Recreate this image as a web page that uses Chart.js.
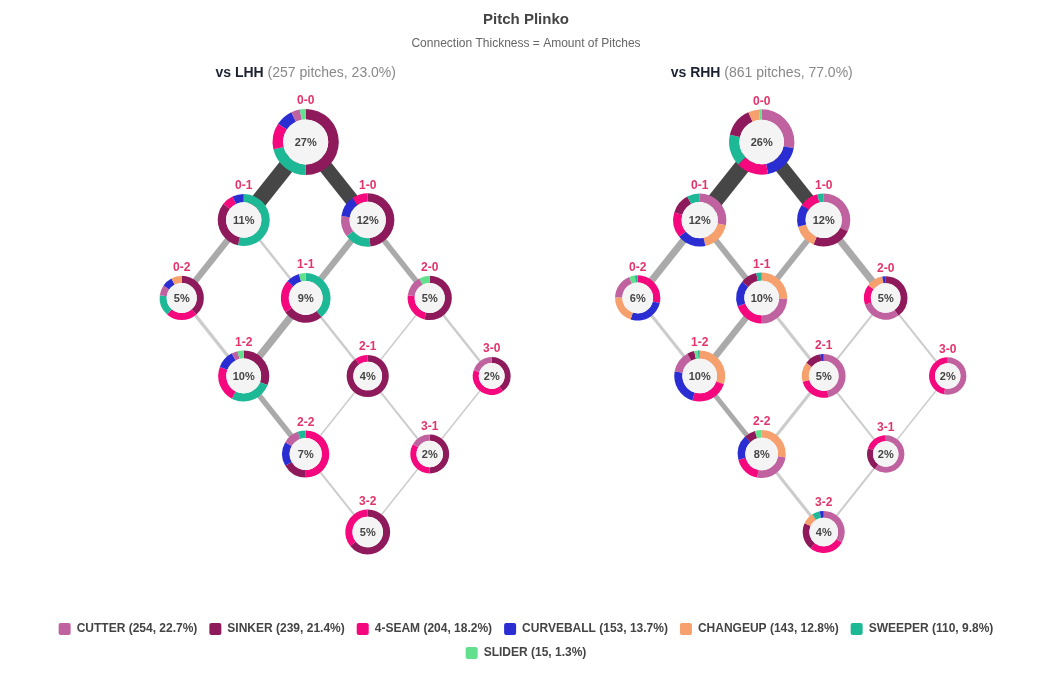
<!DOCTYPE html>
<html>
<head>
<meta charset="utf-8">
<title>Pitch Plinko</title>
<script src="https://cdn.jsdelivr.net/npm/chart.js@4.4.1/dist/chart.umd.min.js"></script>
<style>
  html, body { margin: 0; padding: 0; background: #fff; }
  #wrap { width: 1052px; height: 676px; }
</style>
</head>
<body>
<div id="wrap"><canvas id="plinko"></canvas></div>
<script>
// pitch types (legend order)
const pitchNames = ['CUTTER', 'SINKER', '4-SEAM', 'CURVEBALL', 'CHANGEUP', 'SWEEPER', 'SLIDER'];
const pitchColors = ['#c0629f', '#8f1a5b', '#f5077d', '#2a2dd1', '#f6a06e', '#1db997', '#62e08e'];
const pitchTotals = [254, 239, 204, 153, 143, 110, 15];

// counts, balls-strikes
const counts = ['0-0', '0-1', '1-0', '0-2', '1-1', '2-0', '1-2', '2-1', '3-0', '2-2', '3-1', '3-2'];

// pitches per count vs LHH
const lhhCutter    = [3, 0, 4, 1, 0, 2, 1, 0, 1, 2, 1, 0];
const lhhSinker    = [35, 9, 15, 5, 6, 7, 8, 9, 2, 3, 3, 9];
const lhhFourSeam  = [9, 2, 3, 3, 5, 3, 6, 1, 2, 9, 2, 5];
const lhhCurveball = [6, 2, 4, 1, 2, 0, 3, 0, 0, 3, 0, 0];
const lhhChangeup  = [0, 0, 0, 1, 0, 0, 0, 0, 0, 0, 0, 0];
const lhhSweeper   = [15, 15, 5, 2, 9, 0, 7, 0, 0, 1, 0, 0];
const lhhSlider    = [2, 0, 0, 0, 1, 1, 1, 0, 0, 0, 0, 0];

// pitches per count vs RHH
const rhhCutter    = [63, 29, 33, 9, 21, 12, 12, 19, 8, 17, 9, 11];
const rhhSinker    = [33, 13, 25, 0, 9, 16, 4, 5, 0, 5, 3, 7];
const rhhFourSeam  = [36, 16, 12, 14, 17, 6, 21, 10, 7, 12, 3, 9];
const rhhCurveball = [42, 18, 14, 13, 14, 1, 20, 1, 0, 11, 0, 1];
const rhhChangeup  = [12, 19, 15, 10, 22, 5, 26, 6, 0, 18, 0, 3];
const rhhSweeper   = [35, 8, 4, 1, 3, 0, 1, 0, 0, 0, 0, 2];
const rhhSlider    = [3, 0, 0, 2, 0, 0, 2, 0, 0, 3, 0, 0];

// connections between counts
const edgeFrom = ['0-0', '0-0', '0-1', '0-1', '1-0', '1-0', '0-2', '1-1', '1-1', '2-0', '2-0', '1-2', '2-1', '2-1', '3-0', '2-2', '3-1'];
const edgeTo   = ['0-1', '1-0', '0-2', '1-1', '1-1', '2-0', '1-2', '1-2', '2-1', '2-1', '3-0', '2-2', '2-2', '3-1', '3-1', '3-2', '3-2'];
const lhhFlow  = [31, 27, 11, 3, 11, 9, 5, 13, 3, 1, 3, 9, 1, 2, 1, 2, 1];
const rhhFlow  = [103, 89, 41, 34, 34, 41, 14, 38, 14, 7, 7, 27, 14, 7, 3, 14, 7];

const sides = [
    { label: 'vs LHH', offset: 0, types: [lhhCutter, lhhSinker, lhhFourSeam, lhhCurveball, lhhChangeup, lhhSweeper, lhhSlider], flow: lhhFlow },
    { label: 'vs RHH', offset: 7.355, types: [rhhCutter, rhhSinker, rhhFourSeam, rhhCurveball, rhhChangeup, rhhSweeper, rhhSlider], flow: rhhFlow }
];
const grandTotal = pitchTotals.reduce((a, b) => a + b, 0);
const fontFamily = '"Liberation Sans", Arial, Helvetica, sans-serif';

// position of a count on the board
function countPos(count, side) {
    const [b, s] = count.split('-').map(Number);
    return { x: b - s + side.offset, y: b + s };
}

// build connection datasets
const datasets = [];
sides.forEach(side => {
    const maxFlow = Math.max(...side.flow);
    side.flow.forEach((f, i) => {
        const ratio = f / maxFlow;
        let color = '#cccccc';
        if (ratio >= 0.6) color = '#464646';
        else if (ratio >= 0.25) color = '#aaaaaa';
        datasets.push({
            data: [countPos(edgeFrom[i], side), countPos(edgeTo[i], side)],
            borderColor: color,
            borderWidth: 1 + 15 * ratio,
            pointRadius: 0,
            order: -ratio
        });
    });
});

// donuts + headers
const plinkoPlugin = {
    id: 'plinko',
    afterDatasetsDraw(chart) {
        const { ctx, scales: { x, y } } = chart;
        ctx.save();
        sides.forEach(side => {
            const nodeTotals = counts.map((c, n) => side.types.reduce((a, t) => a + t[n], 0));
            const sideTotal = nodeTotals.reduce((a, b) => a + b, 0);

            counts.forEach((c, n) => {
                const p = countPos(c, side);
                const cx = x.getPixelForValue(p.x);
                const cy = y.getPixelForValue(p.y);
                const pct = nodeTotals[n] / sideTotal * 100;
                const rOut = 13.8 + 3.7 * Math.sqrt(pct);
                const rIn = rOut * 0.68;

                const order = pitchNames.map((_, i) => i)
                    .filter(i => side.types[i][n] > 0)
                    .sort((a, b) => side.types[b][n] - side.types[a][n] || a - b);
                let ang = -Math.PI / 2;
                order.forEach(i => {
                    const sweep = side.types[i][n] / nodeTotals[n] * Math.PI * 2;
                    ctx.beginPath();
                    ctx.arc(cx, cy, rOut, ang, ang + sweep);
                    ctx.arc(cx, cy, rIn, ang + sweep, ang, true);
                    ctx.closePath();
                    ctx.fillStyle = pitchColors[i];
                    ctx.fill();
                    ang += sweep;
                });
                ctx.beginPath();
                ctx.arc(cx, cy, rIn, 0, Math.PI * 2);
                ctx.fillStyle = '#f4f4f4';
                ctx.fill();

                ctx.textAlign = 'center';
                ctx.textBaseline = 'middle';
                ctx.fillStyle = '#444';
                ctx.font = 'bold 11px ' + fontFamily;
                ctx.fillText(Math.round(pct) + '%', cx, cy + 0.5);
                ctx.fillStyle = '#e2336b';
                ctx.font = 'bold 12px ' + fontFamily;
                ctx.fillText(c, cx, cy - rOut - 8);
            });

            // panel header
            const hx = x.getPixelForValue(side.offset);
            const hy = y.getPixelForValue(-0.88);
            const part1 = side.label;
            const part2 = ' (' + sideTotal + ' pitches, ' + (sideTotal / grandTotal * 100).toFixed(1) + '%)';
            ctx.font = 'bold 14px ' + fontFamily;
            const w1 = ctx.measureText(part1).width;
            ctx.font = '14px ' + fontFamily;
            const w2 = ctx.measureText(part2).width;
            const x0 = hx - (w1 + w2) / 2;
            ctx.textAlign = 'left';
            ctx.font = 'bold 14px ' + fontFamily;
            ctx.fillStyle = '#1d2233';
            ctx.fillText(part1, x0, hy);
            ctx.font = '14px ' + fontFamily;
            ctx.fillStyle = '#888';
            ctx.fillText(part2, x0 + w1, hy);
        });
        ctx.restore();
    }
};

const ctx = document.getElementById('plinko').getContext('2d');
const myChart = new Chart(ctx, {
    type: 'line',
    data: { datasets: datasets },
    options: {
        responsive: true,
        maintainAspectRatio: false,
        animation: false,
        layout: { padding: { bottom: 7 } },
        scales: {
            x: { type: 'linear', min: -4.931, max: 12.037, display: false },
            y: { type: 'linear', reverse: true, min: -1.046, max: 6.013, display: false }
        },
        plugins: {
            title: {
                display: true,
                text: 'Pitch Plinko',
                color: '#444',
                font: { family: fontFamily, size: 15, weight: 'bold' },
                padding: { top: 11, bottom: 2 }
            },
            subtitle: {
                display: true,
                text: 'Connection Thickness = Amount of Pitches',
                color: '#666',
                font: { family: fontFamily, size: 12 },
                padding: { top: 5, bottom: 10 }
            },
            legend: {
                position: 'bottom',
                onClick: () => {},
                labels: {
                    color: '#444',
                    font: { family: fontFamily, size: 12, weight: 'bold' },
                    boxWidth: 12,
                    boxHeight: 12,
                    padding: 12,
                    useBorderRadius: true,
                    borderRadius: 2,
                    generateLabels: () => pitchNames.map((name, i) => ({
                        text: name + ' (' + pitchTotals[i] + ', ' + (pitchTotals[i] / grandTotal * 100).toFixed(1) + '%)',
                        fillStyle: pitchColors[i],
                        strokeStyle: pitchColors[i],
                        fontColor: '#444',
                        lineWidth: 0,
                        hidden: false,
                        borderRadius: 2
                    }))
                }
            },
            tooltip: { enabled: false }
        }
    },
    plugins: [plinkoPlugin]
});
</script>
</body>
</html>
